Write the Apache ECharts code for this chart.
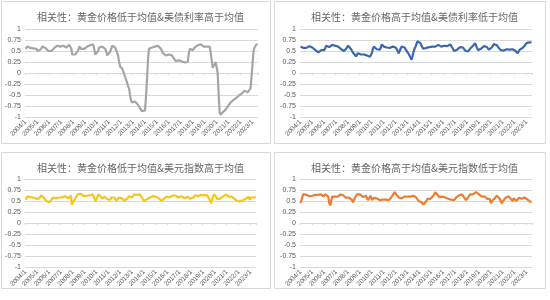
<!DOCTYPE html>
<html><head><meta charset="utf-8">
<script src="https://cdn.jsdelivr.net/npm/echarts@6/dist/echarts.min.js"></script>
<style>html,body{margin:0;padding:0;background:#fff}#c{width:550px;height:300px}</style>
</head><body><div id="c"></div>
<script>
const titles = [
  '相关性：黄金价格低于均值&美债利率高于均值',
  '相关性：黄金价格高于均值&美债利率低于均值',
  '相关性：黄金价格低于均值&美元指数高于均值',
  '相关性：黄金价格高于均值&美元指数低于均值'
];
const startYear = 2004;

const goldLowRateHigh = [
 0.55,0.57,0.60,0.60,0.58,0.57,0.56,0.57,0.56,0.55,0.56,0.55,
 0.50,0.48,0.50,0.53,0.57,0.60,0.60,0.58,0.57,0.55,0.53,0.50,
 0.48,0.48,0.50,0.50,0.53,0.57,0.60,0.60,0.62,0.62,0.61,0.60,
 0.60,0.62,0.62,0.61,0.60,0.58,0.57,0.60,0.64,0.66,0.55,0.42,
 0.42,0.42,0.42,0.43,0.45,0.52,0.60,0.58,0.55,0.55,0.54,0.55,
 0.55,0.57,0.60,0.62,0.62,0.63,0.65,0.66,0.65,0.55,0.42,0.43,
 0.45,0.50,0.58,0.62,0.61,0.60,0.58,0.57,0.55,0.50,0.40,0.37,
 0.42,0.48,0.55,0.62,0.61,0.60,0.58,0.56,0.55,0.40,0.25,0.15,
 0.12,0.10,0.05,-0.02,-0.08,-0.15,-0.22,-0.30,-0.35,-0.50,-0.62,-0.67,
 -0.65,-0.64,-0.65,-0.66,-0.68,-0.72,-0.75,-0.80,-0.84,-0.87,-0.88,-0.88,
 -0.85,-0.55,-0.15,0.30,0.55,0.56,0.57,0.58,0.58,0.59,0.60,0.60,
 0.60,0.62,0.61,0.60,0.55,0.50,0.45,0.42,0.44,0.40,0.42,0.38,
 0.42,0.45,0.44,0.40,0.36,0.33,0.30,0.27,0.28,0.30,0.29,0.28,
 0.27,0.26,0.25,0.25,0.24,0.22,0.20,0.25,0.45,0.55,0.57,0.52,
 0.52,0.55,0.58,0.60,0.62,0.63,0.60,0.62,0.65,0.64,0.62,0.60,
 0.62,0.62,0.60,0.62,0.62,0.60,0.45,0.30,0.12,0.15,0.20,0.25,
 0.22,0.00,-0.50,-0.90,-0.95,-0.93,-0.90,-0.88,-0.85,-0.82,-0.80,-0.76,
 -0.73,-0.70,-0.67,-0.65,-0.63,-0.61,-0.60,-0.58,-0.56,-0.54,-0.52,-0.50,
 -0.48,-0.46,-0.45,-0.42,-0.40,-0.40,-0.42,-0.44,-0.45,-0.42,-0.35,-0.10,
 0.20,0.50,0.58,0.62,0.65,0.66
];
const goldHighRateLow = [
 0.60,0.59,0.58,0.57,0.56,0.55,0.57,0.58,0.60,0.61,0.60,0.59,
 0.58,0.56,0.54,0.52,0.50,0.49,0.47,0.48,0.50,0.52,0.51,0.50,
 0.52,0.56,0.62,0.65,0.62,0.59,0.58,0.61,0.64,0.65,0.64,0.62,
 0.63,0.61,0.60,0.58,0.56,0.54,0.52,0.50,0.50,0.52,0.55,0.58,
 0.62,0.61,0.58,0.54,0.50,0.46,0.48,0.44,0.38,0.42,0.45,0.43,
 0.43,0.42,0.43,0.43,0.42,0.42,0.41,0.40,0.39,0.38,0.37,0.36,
 0.45,0.55,0.60,0.58,0.56,0.54,0.52,0.50,0.53,0.58,0.65,0.62,
 0.60,0.59,0.58,0.58,0.60,0.58,0.57,0.58,0.59,0.60,0.62,0.60,
 0.58,0.55,0.50,0.45,0.48,0.55,0.60,0.62,0.61,0.58,0.54,0.50,
 0.47,0.44,0.40,0.35,0.30,0.38,0.48,0.55,0.60,0.66,0.72,0.73,
 0.72,0.68,0.62,0.58,0.55,0.55,0.56,0.57,0.58,0.58,0.59,0.60,
 0.60,0.60,0.61,0.62,0.60,0.61,0.62,0.64,0.63,0.62,0.60,0.62,
 0.63,0.62,0.62,0.63,0.61,0.60,0.62,0.65,0.62,0.58,0.55,0.50,
 0.50,0.51,0.53,0.55,0.57,0.59,0.61,0.62,0.58,0.54,0.51,0.50,
 0.48,0.49,0.52,0.55,0.57,0.59,0.62,0.66,0.68,0.63,0.57,0.52,
 0.52,0.54,0.55,0.57,0.59,0.61,0.62,0.61,0.59,0.56,0.53,0.50,
 0.53,0.58,0.62,0.66,0.68,0.66,0.63,0.60,0.57,0.54,0.52,0.48,
 0.49,0.51,0.52,0.53,0.54,0.55,0.52,0.53,0.54,0.55,0.54,0.53,
 0.52,0.50,0.46,0.45,0.48,0.53,0.57,0.55,0.57,0.60,0.62,0.65,
 0.68,0.69,0.70,0.70,0.70,0.69
];
const goldLowDollarHigh = [
 0.53,0.57,0.60,0.62,0.61,0.59,0.57,0.57,0.58,0.58,0.56,0.55,
 0.52,0.53,0.56,0.60,0.63,0.62,0.59,0.56,0.52,0.50,0.48,0.47,
 0.47,0.49,0.52,0.55,0.58,0.57,0.55,0.56,0.58,0.60,0.58,0.57,
 0.59,0.58,0.55,0.58,0.61,0.62,0.59,0.56,0.55,0.60,0.62,0.42,
 0.45,0.50,0.54,0.58,0.61,0.65,0.67,0.68,0.66,0.64,0.62,0.61,
 0.60,0.61,0.62,0.60,0.62,0.63,0.62,0.64,0.65,0.66,0.62,0.50,
 0.52,0.60,0.65,0.63,0.60,0.58,0.55,0.56,0.60,0.62,0.58,0.54,
 0.50,0.51,0.53,0.58,0.62,0.61,0.58,0.54,0.50,0.53,0.57,0.60,
 0.59,0.57,0.55,0.53,0.51,0.50,0.52,0.55,0.58,0.61,0.62,0.60,
 0.58,0.62,0.65,0.61,0.62,0.64,0.68,0.67,0.65,0.61,0.58,0.55,
 0.50,0.50,0.52,0.54,0.55,0.56,0.58,0.60,0.62,0.61,0.60,0.62,
 0.60,0.59,0.58,0.56,0.54,0.52,0.50,0.52,0.55,0.57,0.58,0.60,
 0.62,0.60,0.58,0.59,0.61,0.63,0.65,0.63,0.62,0.60,0.59,0.58,
 0.60,0.62,0.61,0.58,0.57,0.56,0.55,0.57,0.60,0.59,0.57,0.55,
 0.53,0.55,0.58,0.61,0.63,0.62,0.60,0.61,0.62,0.63,0.64,0.65,
 0.62,0.63,0.64,0.65,0.63,0.60,0.55,0.50,0.45,0.52,0.60,0.65,
 0.65,0.60,0.55,0.52,0.53,0.55,0.57,0.58,0.60,0.62,0.64,0.65,
 0.62,0.61,0.60,0.58,0.59,0.60,0.58,0.57,0.55,0.52,0.50,0.48,
 0.48,0.49,0.50,0.52,0.51,0.50,0.53,0.55,0.57,0.58,0.60,0.53,
 0.55,0.58,0.60,0.57,0.58,0.60
];
const goldHighDollarLow = [
 0.45,0.52,0.60,0.66,0.70,0.68,0.64,0.61,0.60,0.61,0.62,0.62,
 0.62,0.63,0.63,0.64,0.65,0.66,0.64,0.62,0.63,0.65,0.63,0.60,
 0.62,0.65,0.68,0.66,0.60,0.45,0.40,0.50,0.60,0.62,0.61,0.60,
 0.60,0.58,0.60,0.62,0.65,0.67,0.65,0.63,0.61,0.60,0.57,0.55,
 0.55,0.58,0.60,0.57,0.52,0.47,0.52,0.58,0.62,0.65,0.66,0.66,
 0.65,0.63,0.61,0.59,0.58,0.60,0.62,0.58,0.52,0.48,0.52,0.62,
 0.52,0.54,0.57,0.60,0.58,0.56,0.54,0.52,0.52,0.54,0.55,0.53,
 0.52,0.52,0.53,0.55,0.53,0.52,0.55,0.57,0.60,0.63,0.66,0.70,
 0.68,0.64,0.60,0.58,0.56,0.55,0.56,0.55,0.57,0.60,0.62,0.61,
 0.60,0.61,0.62,0.60,0.58,0.60,0.62,0.61,0.60,0.57,0.53,0.50,
 0.48,0.50,0.47,0.45,0.42,0.40,0.45,0.50,0.55,0.53,0.52,0.55,
 0.55,0.58,0.62,0.66,0.70,0.68,0.65,0.62,0.59,0.58,0.59,0.60,
 0.58,0.57,0.58,0.57,0.56,0.55,0.55,0.54,0.53,0.51,0.50,0.52,
 0.55,0.58,0.61,0.62,0.63,0.62,0.63,0.65,0.62,0.58,0.55,0.52,
 0.55,0.58,0.62,0.65,0.68,0.66,0.65,0.66,0.67,0.70,0.68,0.66,
 0.65,0.64,0.62,0.60,0.59,0.58,0.60,0.57,0.55,0.57,0.58,0.55,
 0.45,0.48,0.52,0.55,0.57,0.59,0.62,0.61,0.58,0.55,0.50,0.45,
 0.48,0.52,0.55,0.58,0.61,0.62,0.60,0.57,0.55,0.52,0.50,0.56,
 0.55,0.52,0.50,0.53,0.57,0.60,0.58,0.55,0.52,0.55,0.58,0.60,
 0.56,0.53,0.51,0.50,0.48,0.48
];

const seriesData = [goldLowRateHigh, goldHighRateLow, goldLowDollarHigh, goldHighDollarLow];
const colors = ['#A5A5A5', '#3A67AE', '#F5C518', '#ED7D31'];

const months = [];
for (let i = 0; i < goldLowRateHigh.length; i++) {
  months.push((startYear + Math.floor(i / 12)) + '/' + (i % 12 + 1));
}

const panels = [
  {x: 1, y: 1, w: 269, h: 142, gl: 25, gt: 29, gw: 233},
  {x: 274, y: 1, w: 271, h: 142, gl: 300, gt: 29, gw: 232},
  {x: 1, y: 152, w: 269, h: 136, gl: 25, gt: 179, gw: 231},
  {x: 274, y: 152, w: 271, h: 136, gl: 300, gt: 179, gw: 232}
];

const txt = '#595959';
const option = {
  animation: false,
  backgroundColor: '#fff',
  title: panels.map((p, i) => ({
    text: titles[i], left: p.x + p.w / 2, top: p.y + 6, textAlign: 'center',
    textStyle: {fontSize: 10, fontWeight: 'normal', color: '#666', fontFamily: 'Noto Sans CJK SC'}
  })),
  graphic: panels.map(p => ({
    type: 'rect', shape: {x: p.x + 0.5, y: p.y + 0.5, width: p.w, height: p.h},
    style: {fill: 'none', stroke: '#d9d9d9', lineWidth: 1}, silent: true, z: -1
  })),
  grid: panels.map(p => ({left: p.gl, top: p.gt, width: p.gw, height: 88})),
  xAxis: panels.flatMap((p, i) => [
    {
      type: 'category', gridIndex: i, data: months, boundaryGap: true,
      axisLine: {show: false, onZero: false}, axisTick: {show: false},
      axisLabel: {interval: 11, rotate: 45, fontSize: 6.5, color: txt, margin: 4,
                  fontFamily: 'Liberation Sans'},
      splitLine: {show: false}
    },
    {
      type: 'category', gridIndex: i, data: months, boundaryGap: true, position: 'bottom',
      axisLine: {show: true, onZero: true, lineStyle: {color: '#d9d9d9'}},
      axisTick: {show: true, interval: 11, length: 2, lineStyle: {color: '#d9d9d9'}},
      axisLabel: {show: false}, splitLine: {show: false}
    }
  ]),
  yAxis: panels.map((p, i) => ({
    type: 'value', gridIndex: i, min: -1, max: 1, interval: 0.25,
    axisLine: {show: false}, axisTick: {show: false},
    axisLabel: {fontSize: 7, color: txt, margin: 4, fontFamily: 'Liberation Sans'},
    splitLine: {lineStyle: {color: '#d9d9d9', width: 1}}
  })),
  series: seriesData.map((d, i) => ({
    type: 'line', xAxisIndex: i * 2, yAxisIndex: i, data: d,
    showSymbol: false, symbol: 'none',
    lineStyle: {color: colors[i], width: 2.2}, itemStyle: {color: colors[i]}
  }))
};
echarts.init(document.getElementById('c')).setOption(option);
</script></body></html>
